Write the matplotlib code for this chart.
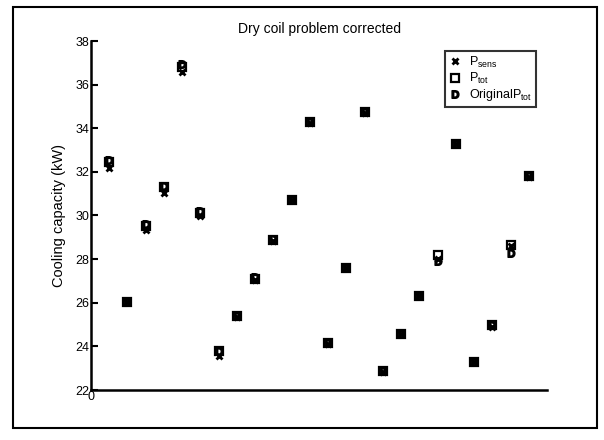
import matplotlib
matplotlib.use("Agg")
import matplotlib.pyplot as plt
from matplotlib.patches import Rectangle

plt.rcParams['font.family'] = ['Liberation Sans', 'DejaVu Sans']
plt.rcParams['mathtext.fontset'] = 'custom'
plt.rcParams['mathtext.rm'] = 'Liberation Sans'
plt.rcParams['mathtext.it'] = 'Liberation Sans'
plt.rcParams['mathtext.bf'] = 'Liberation Sans:bold'

run_index = list(range(1, 25))
p_sens = [32.2, 26.05, 29.33, 31.05, 36.57, 29.98, 23.57, 25.35, 27.05, 28.85,
          30.70, 34.25, 24.12, 27.6, 34.72, 22.82, 24.55, 26.3, 28.0, 33.27,
          23.27, 24.9, 28.6, 31.77]
p_tot = [32.45, 26.05, 29.5, 31.3, 36.8, 30.13, 23.8, 25.4, 27.1, 28.87,
         30.72, 34.27, 24.15, 27.6, 34.73, 22.85, 24.56, 26.33, 28.17, 33.28,
         23.28, 25.0, 28.63, 31.79]
p_tot_orig = [32.55, 26.05, 29.6, 31.36, 36.93, 30.2, 23.8, 25.4, 27.2, 28.9,
              30.72, 34.27, 24.15, 27.6, 34.73, 22.85, 24.56, 26.33, 27.9, 33.28,
              23.28, 25.0, 28.3, 31.79]
y_ticks = [22, 24, 26, 28, 30, 32, 34, 36, 38]

fig = plt.figure(figsize=(6.04, 4.40), dpi=100)
fig.patches.append(Rectangle((13/604, 12/440), (597-13)/604, (433-12)/440,
                             transform=fig.transFigure, fill=False,
                             edgecolor='black', linewidth=1.5))
ax = fig.add_axes([91/604, 50/440, (547-91)/604, (390-41)/440])

ax.plot(run_index, p_sens, linestyle='none', marker='x', color='black',
        markersize=5, markeredgewidth=2, label=r'P$_{\mathregular{sens}}$')
ax.plot(run_index, p_tot, linestyle='none', marker='s', markerfacecolor='none',
        markeredgecolor='black', markersize=6, markeredgewidth=1.6,
        label=r'P$_{\mathregular{tot}}$')
ax.plot(run_index, p_tot_orig, linestyle='none', marker=r'$\mathbf{D}$', color='black',
        markersize=5.5, label=r'OriginalP$_{\mathregular{tot}}$')

ax.set_xlim(0, 25)
ax.set_ylim(22, 38)
ax.set_yticks(y_ticks)
ax.set_yticklabels([str(t) for t in y_ticks], fontsize=9)
ax.set_xticks([0])
ax.set_xticklabels(['0'], fontsize=9)
ax.tick_params(axis='y', direction='in', length=5, width=1.5, pad=1)
ax.tick_params(axis='x', length=0, pad=1)
for s in ['top', 'right']:
    ax.spines[s].set_visible(False)
for s in ['left', 'bottom']:
    ax.spines[s].set_linewidth(1.8)

ax.set_ylabel('Cooling capacity (kW)', fontsize=10.5, labelpad=7)
ax.set_title('Dry coil problem corrected', fontsize=10, pad=6)

leg = ax.legend(loc='upper right', bbox_to_anchor=((536-91)/456, (390-51)/349),
                fontsize=9, frameon=True, fancybox=False, edgecolor='black',
                handlelength=1.0, handletextpad=0.6, borderpad=0.3,
                labelspacing=0.1, borderaxespad=0)
leg.get_frame().set_linewidth(1.5)

fig.savefig('out.png', dpi=100)
